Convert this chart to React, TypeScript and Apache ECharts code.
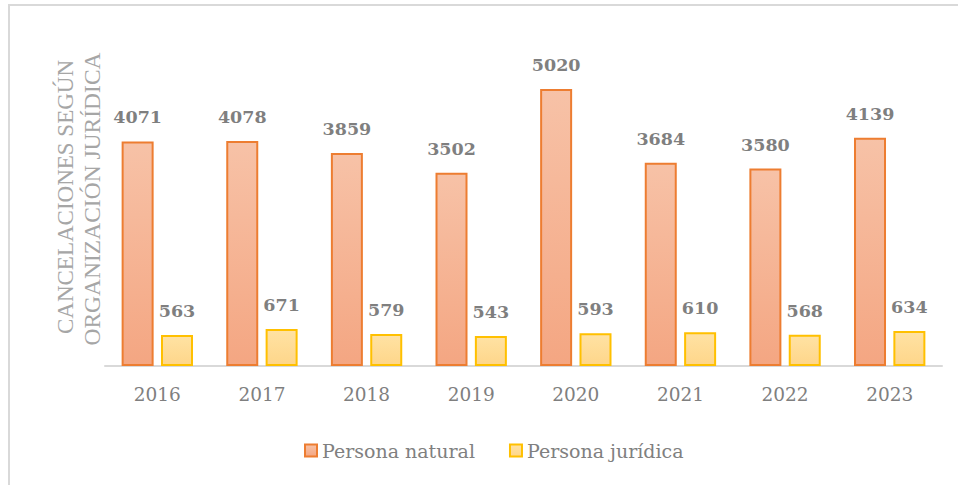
import React, { useEffect, useRef } from "react";
import * as echarts from "echarts";

const years = ["2016", "2017", "2018", "2019", "2020", "2021", "2022", "2023"];
const personaNatural = [4071, 4078, 3859, 3502, 5020, 3684, 3580, 4139];
const personaJuridica = [563, 671, 579, 543, 593, 610, 568, 634];
const seriesNames = ["Persona natural", "Persona jurídica"];
const titleLines = ["CANCELACIONES SEGÚN", "ORGANIZACIÓN JURÍDICA"];

const FONT = "DejaVu Serif";

export default function App() {
  const ref = useRef<HTMLDivElement>(null);
  useEffect(() => {
    if (!ref.current) return;
    const chart = echarts.init(ref.current, null, { renderer: "svg" });
    const orangeFill = new echarts.graphic.LinearGradient(0, 0, 0, 1, [
      { offset: 0, color: "#f7c2a7" },
      { offset: 1, color: "#f4a682" },
    ]);
    const yellowFill = new echarts.graphic.LinearGradient(0, 0, 0, 1, [
      { offset: 0, color: "#ffe2a3" },
      { offset: 1, color: "#fed68a" },
    ]);
    const labelStyle = {
      show: true,
      position: "top" as const,
      distance: 15,
      fontFamily: FONT,
      fontWeight: "bold" as const,
      fontSize: 17.5,
      color: "#7f7f7f",
    };
    chart.setOption({
      animation: false,
      backgroundColor: "#ffffff",
      grid: { left: 105, right: 16, top: 35, bottom: 119 },
      xAxis: {
        type: "category",
        data: years,
        axisLine: { lineStyle: { color: "#d9d9d9", width: 2 } },
        axisTick: { show: false },
        axisLabel: { fontFamily: FONT, fontSize: 18.5, color: "#7f7f7f", margin: 19 },
      },
      yAxis: {
        type: "value",
        min: 0,
        max: 6000,
        show: false,
      },
      legend: {
        left: 299,
        top: 436,
        itemWidth: 12,
        itemHeight: 12,
        itemGap: 34,
        icon: "rect",
        textStyle: { fontFamily: FONT, fontSize: 19, color: "#808080" },
        data: seriesNames,
      },
      series: [
        {
          name: seriesNames[0],
          type: "bar",
          data: personaNatural,
          barWidth: 32,
          barGap: "23%",
          itemStyle: { color: orangeFill, borderColor: "#ed7d31", borderWidth: 2 },
          label: labelStyle,
        },
        {
          name: seriesNames[1],
          type: "bar",
          data: personaJuridica,
          barWidth: 32,
          itemStyle: { color: yellowFill, borderColor: "#ffc000", borderWidth: 2 },
          label: labelStyle,
        },
      ],
      graphic: [
        {
          type: "rect",
          silent: true,
          shape: { x: 9, y: 5, width: 1200, height: 1200 },
          style: { fill: "none", stroke: "#d9d9d9", lineWidth: 2 },
        },
        {
          type: "text",
          x: 65,
          y: 197,
          rotation: Math.PI / 2,
          style: {
            text: titleLines[0],
            fontFamily: "Liberation Serif",
            fontSize: 23,
            fill: "#a6a6a6",
            align: "center",
            verticalAlign: "middle",
          },
        },
        {
          type: "text",
          x: 92,
          y: 199,
          rotation: Math.PI / 2,
          style: {
            text: titleLines[1],
            fontFamily: "Liberation Serif",
            fontSize: 23.5,
            fill: "#a6a6a6",
            align: "center",
            verticalAlign: "middle",
          },
        },
      ],
    });
    return () => chart.dispose();
  }, []);
  return (
    <div
      ref={ref}
      style={{ position: "fixed", left: 0, top: 0, width: 958, height: 485 }}
    />
  );
}
